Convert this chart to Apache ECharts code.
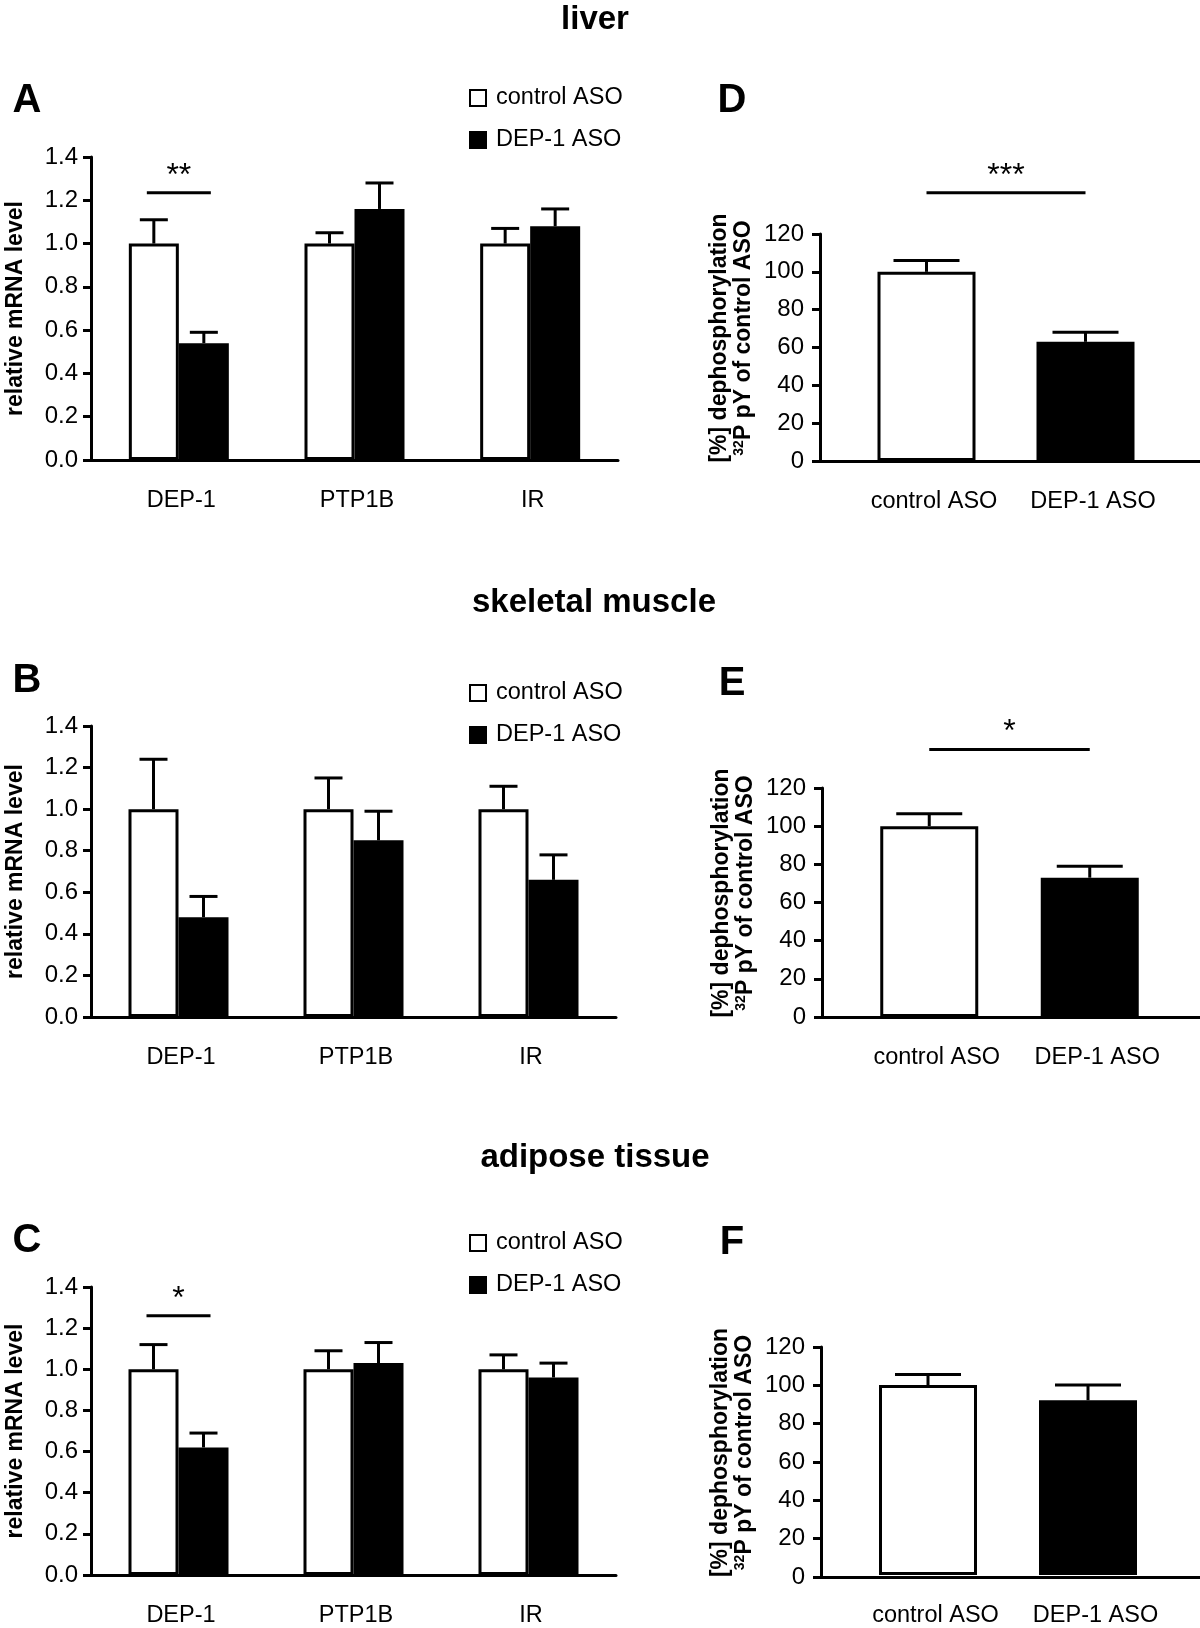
<!DOCTYPE html>
<html><head><meta charset="utf-8">
<script src="https://cdn.jsdelivr.net/npm/echarts@6/dist/echarts.min.js"></script>
<style>html,body{margin:0;padding:0;background:#fff}#c{width:1200px;height:1628px}</style>
</head><body><div id="c"></div>
<script>
// ---------- DATA ----------
const mrnaCategories = ['DEP-1', 'PTP1B', 'IR'];
const asoCategories = ['control ASO', 'DEP-1 ASO'];
const groupNames = ['control ASO', 'DEP-1 ASO'];
const mrnaTickLabels = ['0.0', '0.2', '0.4', '0.6', '0.8', '1.0', '1.2', '1.4'];
const dephosTickLabels = ['0', '20', '40', '60', '80', '100', '120'];
const sectionTitles = ['liver', 'skeletal muscle', 'adipose tissue'];
const panelLetters = ['A', 'B', 'C', 'D', 'E', 'F'];

// A: liver mRNA
const liverControl = [1.0, 1.0, 1.0];
const liverControlErr = [0.11, 0.05, 0.07];
const liverDep1 = [0.54, 1.16, 1.08];
const liverDep1Err = [0.05, 0.12, 0.08];
// B: skeletal muscle mRNA
const muscleControl = [1.0, 1.0, 1.0];
const muscleControlErr = [0.24, 0.15, 0.11];
const muscleDep1 = [0.48, 0.85, 0.66];
const muscleDep1Err = [0.10, 0.14, 0.12];
// C: adipose mRNA
const adiposeControl = [1.0, 1.0, 1.0];
const adiposeControlErr = [0.12, 0.09, 0.07];
const adiposeDep1 = [0.62, 1.03, 0.96];
const adiposeDep1Err = [0.07, 0.10, 0.07];
// D/E/F: dephosphorylation [%]
const liverDephos = [100, 63];
const liverDephosErr = [6, 5];
const muscleDephos = [100, 73];
const muscleDephosErr = [6.5, 6];
const adiposeDephos = [100, 92];
const adiposeDephosErr = [5.5, 8];
// significance marks: [fromCategory, toCategory, level]
const liverMrnaSig = [0, 0, 1.235];
const liverMrnaSigText = '**';
const adiposeMrnaSig = [0, 0, 1.26];
const adiposeMrnaSigText = '*';
const liverDephosSig = [0, 1, 141.8];
const liverDephosSigText = '***';
const muscleDephosSig = [0, 1, 140.2];
const muscleDephosSigText = '*';

// ---------- STYLE / LAYOUT ----------
const FONT = '"Liberation Sans", Arial, Helvetica, sans-serif';
const BLACK = '#000';
const TXT = 23.5;
const mrnaGrids = [
  {left: 91, top: 157, width: 527, height: 303},
  {left: 91, top: 726, width: 525, height: 291},
  {left: 91, top: 1287, width: 525, height: 290}
];
const frameGrids = [
  {left: 820, top: 234, width: 380, height: 227},
  {left: 822, top: 788, width: 378, height: 229},
  {left: 821, top: 1347, width: 379, height: 230}
];
const barGrids = [
  {left: 847, top: 234, width: 318, height: 227},
  {left: 849, top: 788, width: 321, height: 229},
  {left: 848, top: 1347, width: 320, height: 230}
];
const MRNA_BAR_W = 50;
const DEPHOS_BAR_W = 98;

const mrnaSets = [
  [liverControl, liverControlErr, liverDep1, liverDep1Err],
  [muscleControl, muscleControlErr, muscleDep1, muscleDep1Err],
  [adiposeControl, adiposeControlErr, adiposeDep1, adiposeDep1Err]
];
const dephosSets = [
  [liverDephos, liverDephosErr],
  [muscleDephos, muscleDephosErr],
  [adiposeDephos, adiposeDephosErr]
];

const grid = [];
const xAxis = [];
const yAxis = [];
const series = [];

const axisLineStyle = {show: true, lineStyle: {color: BLACK, width: 3}};
const labelStyle = {color: BLACK, fontSize: TXT, fontFamily: FONT};
const tickLabelStyle = {color: BLACK, fontSize: 24, fontFamily: FONT};

function errSeries(xi, yi, vals, errs, offset, capHalf) {
  return {
    type: 'custom', xAxisIndex: xi, yAxisIndex: yi, silent: true, z: 5,
    data: vals.map((v, i) => [i, v, errs[i]]),
    encode: {x: 0, y: 1},
    renderItem: (params, api) => {
      const base = api.coord([api.value(0), api.value(1)]);
      const top = api.coord([api.value(0), api.value(1) + api.value(2)]);
      const x = base[0] + offset;
      return {type: 'group', children: [
        {type: 'line', shape: {x1: x, y1: base[1], x2: x, y2: top[1]}, style: {stroke: BLACK, lineWidth: 3}},
        {type: 'line', shape: {x1: x - capHalf, y1: top[1], x2: x + capHalf, y2: top[1]}, style: {stroke: BLACK, lineWidth: 3}}
      ]};
    }
  };
}

function sigSeries(xi, yi, sig, text, innerHalf) {
  return {
    type: 'custom', xAxisIndex: xi, yAxisIndex: yi, silent: true, z: 6,
    data: [sig],
    encode: {x: [0, 1], y: 2},
    renderItem: (params, api) => {
      const p1 = api.coord([api.value(0), api.value(2)]);
      const p2 = api.coord([api.value(1), api.value(2)]);
      let x1 = p1[0], x2 = p2[0];
      if (api.value(0) === api.value(1)) { x1 -= innerHalf; x2 += innerHalf; }
      return {type: 'group', children: [
        {type: 'line', shape: {x1: x1, y1: p1[1], x2: x2, y2: p1[1]}, style: {stroke: BLACK, lineWidth: 3}},
        {type: 'text', x: (x1 + x2) / 2, y: p1[1] - 17,
          style: {text: text, fill: BLACK, font: '32px ' + FONT, textAlign: 'center', textVerticalAlign: 'middle', align: 'center', verticalAlign: 'middle'}}
      ]};
    }
  };
}

// mRNA panels
mrnaSets.forEach((set, p) => {
  grid.push(mrnaGrids[p]);
  xAxis.push({
    type: 'category', gridIndex: p, data: mrnaCategories,
    axisLine: axisLineStyle, axisTick: {show: false},
    axisLabel: Object.assign({interval: 0, margin: 29, padding: [0, 0, 0, 5]}, labelStyle)
  });
  yAxis.push({
    type: 'value', gridIndex: p, min: 0, max: 1.4, interval: 0.2,
    axisLine: axisLineStyle,
    axisTick: {show: true, length: 8, lineStyle: {color: BLACK, width: 3}},
    splitLine: {show: false},
    axisLabel: Object.assign({margin: 13, formatter: v => mrnaTickLabels[Math.round(v / 0.2)]}, tickLabelStyle),
    name: 'relative mRNA level', nameLocation: 'middle', nameGap: 64,
    nameTextStyle: {color: BLACK, fontSize: 23, fontWeight: 'bold', fontFamily: FONT}
  });
});
// frames for dephos panels
dephosSets.forEach((set, q) => {
  grid.push(frameGrids[q]);
  xAxis.push({
    type: 'value', gridIndex: 3 + q, min: 0, max: 1,
    axisLine: axisLineStyle, axisTick: {show: false}, axisLabel: {show: false}, splitLine: {show: false}
  });
  yAxis.push({
    type: 'value', gridIndex: 3 + q, min: 0, max: 120, interval: 20,
    axisLine: axisLineStyle,
    axisTick: {show: true, length: 8, lineStyle: {color: BLACK, width: 3}},
    splitLine: {show: false},
    axisLabel: Object.assign({margin: 16, formatter: v => dephosTickLabels[Math.round(v / 20)]}, tickLabelStyle),
    name: '{a|[%] dephosphorylation}\n{s|32}{a|P pY of control ASO}',
    nameLocation: 'middle', nameGap: 64,
    nameTextStyle: {
      color: BLACK, fontFamily: FONT, padding: [0, 0, 0, 19],
      rich: {
        a: {fontSize: 23, fontWeight: 'bold', lineHeight: 24, fontFamily: FONT, color: BLACK},
        s: {fontSize: 14, fontWeight: 'bold', lineHeight: 24, verticalAlign: 'top', fontFamily: FONT, color: BLACK}
      }
    }
  });
});
// bar grids for dephos panels
dephosSets.forEach((set, q) => {
  grid.push(barGrids[q]);
  xAxis.push({
    type: 'category', gridIndex: 6 + q, data: asoCategories,
    axisLine: {show: false}, axisTick: {show: false},
    axisLabel: Object.assign({interval: 0, hideOverlap: false, margin: 29, padding: [0, 0, 0, 15]}, labelStyle)
  });
  yAxis.push({type: 'value', gridIndex: 6 + q, min: 0, max: 120, show: false, splitLine: {show: false}});
});

// mRNA series
mrnaSets.forEach((set, p) => {
  series.push({
    type: 'bar', name: groupNames[0], xAxisIndex: p, yAxisIndex: p, data: set[0],
    barWidth: MRNA_BAR_W, barGap: '0%',
    itemStyle: {color: '#fff', borderColor: BLACK, borderWidth: 3}
  });
  series.push({
    type: 'bar', name: groupNames[1], xAxisIndex: p, yAxisIndex: p, data: set[2],
    barWidth: MRNA_BAR_W, barGap: '0%',
    itemStyle: {color: BLACK, borderColor: BLACK, borderWidth: 3}
  });
  series.push(errSeries(p, p, set[0], set[1], -MRNA_BAR_W / 2, 14));
  series.push(errSeries(p, p, set[2], set[3], MRNA_BAR_W / 2, 14));
});
series.push(sigSeries(0, 0, liverMrnaSig, liverMrnaSigText, 32));
series.push(sigSeries(2, 2, adiposeMrnaSig, adiposeMrnaSigText, 32));

// dephos series
dephosSets.forEach((set, q) => {
  const ai = 6 + q;
  series.push({
    type: 'bar', name: 'dephos' + q, xAxisIndex: ai, yAxisIndex: ai, barWidth: DEPHOS_BAR_W,
    data: set[0].map((v, i) => ({
      value: v,
      itemStyle: i === 0 ? {color: '#fff', borderColor: BLACK, borderWidth: 3}
                         : {color: BLACK, borderColor: BLACK, borderWidth: 3}
    }))
  });
  series.push(errSeries(ai, ai, set[0], set[1], 0, 33));
});
series.push(sigSeries(6, 6, liverDephosSig, liverDephosSigText, 0));
series.push(sigSeries(7, 7, muscleDephosSig, muscleDephosSigText, 0));

// legends
const legendTops = [81, 676, 1226];
const legend = legendTops.map(t => ({
  left: 464, top: t, orient: 'vertical', itemWidth: 16, itemHeight: 16, itemGap: 18,
  selectedMode: false, icon: 'rect', data: groupNames,
  itemStyle: {borderWidth: 2},
  textStyle: {color: BLACK, fontSize: TXT, fontFamily: FONT, lineHeight: 22, padding: [0, 0, 0, 5]}
}));

// titles and letters
const titlePos = [[595, 20], [594, 603], [595, 1158]];
const letterPos = [[27, 101], [27, 681], [27, 1241], [732, 101], [732, 684], [732, 1243]];
const graphic = [];
sectionTitles.forEach((t, i) => graphic.push({
  type: 'text', x: titlePos[i][0], y: titlePos[i][1],
  style: {text: t, fill: BLACK, font: 'bold 33px ' + FONT, textAlign: 'center', textVerticalAlign: 'middle', align: 'center', verticalAlign: 'middle'}
}));
panelLetters.forEach((t, i) => graphic.push({
  type: 'text', x: letterPos[i][0], y: letterPos[i][1],
  style: {text: t, fill: BLACK, font: 'bold 40px ' + FONT, textAlign: 'center', textVerticalAlign: 'middle', align: 'center', verticalAlign: 'middle'}
}));

const chart = echarts.init(document.getElementById('c'), null, {renderer: 'canvas'});
chart.setOption({
  backgroundColor: '#fff',
  animation: false,
  textStyle: {fontFamily: FONT},
  grid: grid, xAxis: xAxis, yAxis: yAxis, series: series, legend: legend, graphic: graphic
});
</script></body></html>
